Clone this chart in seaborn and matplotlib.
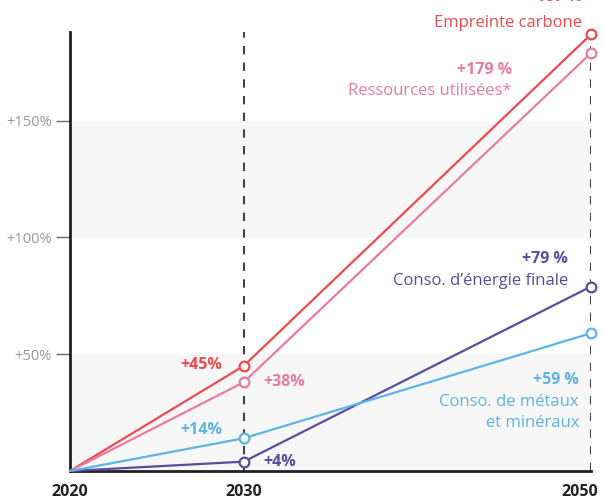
import pandas as pd
import matplotlib.pyplot as plt
import matplotlib.transforms as mtransforms
import seaborn as sns

# Values (% change vs 2020)
years = [2020, 2030, 2050]
carbone = [0, 45, 187]
ressources = [0, 38, 179]
energie = [0, 4, 79]
metaux = [0, 14, 59]

series_names = ['Empreinte carbone', 'Ressources utilisées*',
                'Conso. d’énergie finale', 'Conso. de métaux\net minéraux']
series_values = [carbone, ressources, energie, metaux]
colors = ['#ef4a50', '#e97ba0', '#5b4ca0', '#5cb5e6']

y_ticks = [50, 100, 150]
y_tick_labels = ['+50%', '+100%', '+150%']
x_ticks = [2020, 2030, 2050]

df = pd.DataFrame({
    'annee': years * 4,
    'valeur': sum(series_values, []),
    'serie': [n for n in series_names for _ in years],
})

sns.set_style('white')
plt.rcParams['font.family'] = ['Open Sans', 'DejaVu Sans']

fig = plt.figure(figsize=(6.03, 5.01), dpi=100)
ax = fig.add_axes([70 / 603, 1 - 471 / 501, 521 / 603, 439 / 501])

# grey bands
ax.axhspan(0, 50, color='#f7f7f7', zorder=0)
ax.axhspan(100, 150, color='#f7f7f7', zorder=0)

# dashed year guides
for yr in [2030, 2050]:
    ax.axvline(yr, color='#444444', lw=1.5, ls=(0, (4, 4)), zorder=1)

for name, col in zip(series_names, colors):
    sns.lineplot(data=df[df['serie'] == name], x='annee', y='valeur', ax=ax,
                 color=col, lw=1.6, marker='o', markevery=[1, 2], ms=7,
                 markerfacecolor='white', markeredgecolor=col, markeredgewidth=1.6,
                 clip_on=False, zorder=3)

ax.set_xlim(2020, 2050)
ax.set_ylim(0, 188)
ax.set_xlabel('')
ax.set_ylabel('')

ax.set_yticks(y_ticks)
ax.set_yticklabels(y_tick_labels, color='#999999', fontsize=10.5)
ax.tick_params(axis='y', length=10, width=1, color='#666666', pad=3, left=True)
ax.set_xticks(x_ticks)
ax.set_xticklabels([str(x) for x in x_ticks], fontsize=11.5, fontweight='bold', color='#222222')
ax.tick_params(axis='x', length=0, pad=9)
last = ax.get_xticklabels()[-1]
last.set_ha('right')
last.set_transform(last.get_transform() + mtransforms.ScaledTranslation(0.07, 0, fig.dpi_scale_trans))

for side in ['top', 'right']:
    ax.spines[side].set_visible(False)
for side in ['left', 'bottom']:
    ax.spines[side].set_color('#222222')
    ax.spines[side].set_linewidth(2)

# value labels at 2030
def lab(x, y, txt, col, dx, dy, ha, bold=True):
    ax.annotate(txt, (x, y), xytext=(dx, dy), textcoords='offset pixels',
                ha=ha, va='center', color=col, fontsize=11.5 if bold else 12,
                fontweight='bold' if bold else 'normal', annotation_clip=False)

lab(2030, carbone[1], f'+{carbone[1]}%', colors[0], -21, 1, 'right')
lab(2030, ressources[1], f'+{ressources[1]}%', colors[1], 20, 0, 'left')
lab(2030, metaux[1], f'+{metaux[1]}%', colors[3], -21, 8, 'right')
lab(2030, energie[1], f'+{energie[1]}%', colors[2], 20, 0, 'left')

# value + name labels at 2050
lab(2050, carbone[2], f'+{carbone[2]} %', colors[0], -9, 37, 'right')
lab(2050, carbone[2], series_names[0], colors[0], -9, 11, 'right', bold=False)
lab(2050, ressources[2], f'+{ressources[2]} %', colors[1], -79, -17, 'right')
lab(2050, ressources[2], series_names[1], colors[1], -79, -38, 'right', bold=False)
lab(2050, energie[2], f'+{energie[2]} %', colors[2], -23, 28, 'right')
lab(2050, energie[2], series_names[2], colors[2], -23, 6, 'right', bold=False)
lab(2050, metaux[2], f'+{metaux[2]} %', colors[3], -12, -47, 'right')
lab(2050, metaux[2], 'Conso. de métaux', colors[3], -12, -69, 'right', bold=False)
lab(2050, metaux[2], 'et minéraux', colors[3], -12, -90, 'right', bold=False)

plt.savefig('out.png', dpi=100)
